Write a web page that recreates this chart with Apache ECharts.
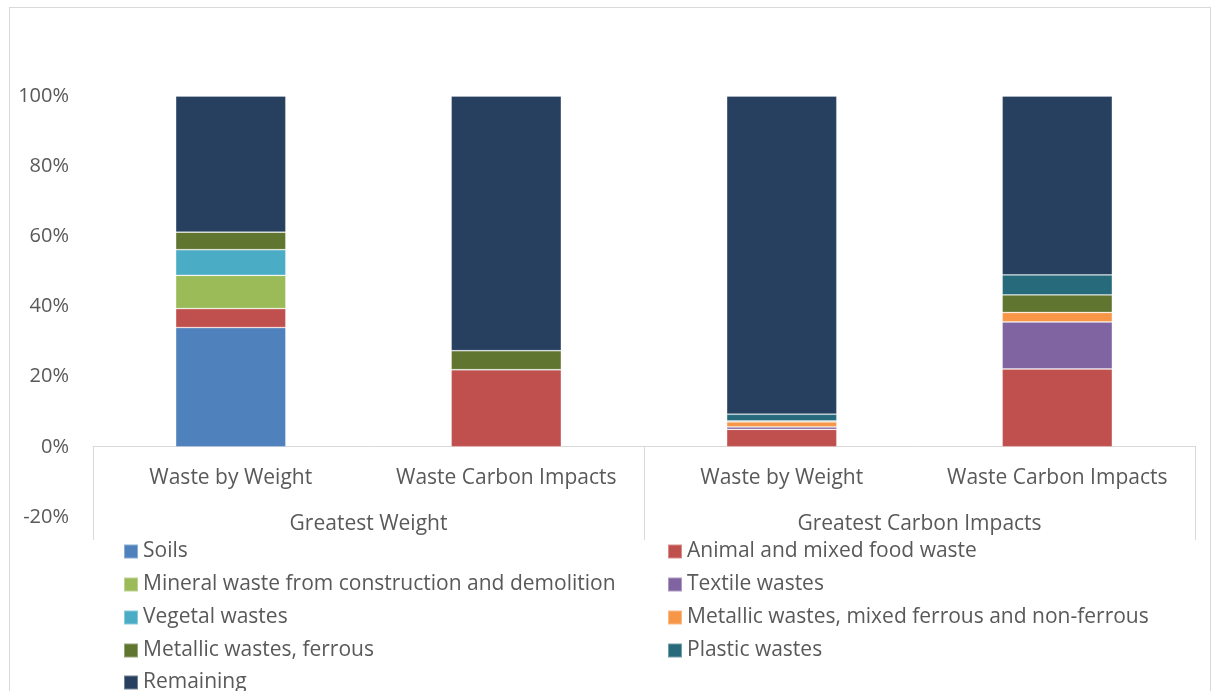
<!DOCTYPE html>
<html>
<head>
<meta charset="utf-8">
<script src="https://cdn.jsdelivr.net/npm/echarts@6/dist/echarts.min.js"></script>
<style>
  html, body { margin: 0; padding: 0; background: #fff; }
  #chart { width: 1216px; height: 691px; }
  .frame {
    position: absolute; left: 9px; top: 7px; width: 1200px; height: 700px;
    border: 1px solid #d9d9d9; pointer-events: none;
  }
</style>
</head>
<body>
<div id="chart"></div>
<div class="frame"></div>
<script>
// categories (inner level) and groups (outer level)
const categories = ["Waste by Weight", "Waste Carbon Impacts", "Waste by Weight", "Waste Carbon Impacts"];
const groups = ["Greatest Weight", "Greatest Carbon Impacts"];
const yTicks = [-20, 0, 20, 40, 60, 80, 100];

// series values, % of each bar
const soils       = [34.0, 0, 0, 0];
const foodWaste   = [5.4, 22.0, 5.0, 22.2];
const mineral     = [9.5, 0, 0, 0];
const textile     = [0, 0, 0.7, 13.4];
const vegetal     = [7.3, 0, 0, 0];
const metalMixed  = [0, 0, 1.4, 2.7];
const ferrous     = [5.0, 5.4, 0.3, 5.0];
const plastic     = [0, 0, 1.9, 5.7];
const remaining   = [38.8, 72.6, 90.7, 51.0];

const seriesDefs = [
  { name: "Soils", data: soils, color: "#4F81BD" },
  { name: "Animal and mixed food waste", data: foodWaste, color: "#C0504D" },
  { name: "Mineral waste from construction and demolition", data: mineral, color: "#9BBB59" },
  { name: "Textile wastes", data: textile, color: "#8064A2" },
  { name: "Vegetal wastes", data: vegetal, color: "#4BACC6" },
  { name: "Metallic wastes, mixed ferrous and non-ferrous", data: metalMixed, color: "#F79646" },
  { name: "Metallic wastes, ferrous", data: ferrous, color: "#5F7530" },
  { name: "Plastic wastes", data: plastic, color: "#276A7C" },
  { name: "Remaining", data: remaining, color: "#27405F" },
];

const fontFamily = "'Open Sans', 'Liberation Sans', sans-serif";
const textColor = "#595959";

const chart = echarts.init(document.getElementById("chart"));

const legendText = { color: textColor, fontSize: 21, fontFamily: fontFamily };

// legend laid out in two columns, read row by row
const makeLegend = (left, top, names) => ({
  orient: "vertical",
  left: left,
  top: top,
  icon: "rect",
  itemWidth: 14,
  itemHeight: 14,
  itemGap: 12,
  textStyle: legendText,
  data: names,
});

const option = {
  animation: false,
  grid: { left: 93, right: 21, top: 96, bottom: 174 },
  legend: [
    makeLegend(118, 536, [seriesDefs[0].name, seriesDefs[2].name, seriesDefs[4].name, seriesDefs[6].name]),
    makeLegend(118, 667, [seriesDefs[8].name]),
    makeLegend(662, 536, [seriesDefs[1].name, seriesDefs[3].name, seriesDefs[5].name, seriesDefs[7].name]),
  ],
  xAxis: [
    {
      type: "category",
      data: categories,
      // moved up onto the 0% line
      offset: -71,
      axisLine: { onZero: false, lineStyle: { color: "#d9d9d9", width: 1 } },
      axisTick: { show: false },
      axisLabel: { margin: 22, color: textColor, fontSize: 21, fontFamily: fontFamily, interval: 0 },
    },
    {
      type: "category",
      data: groups,
      position: "bottom",
      offset: 23,
      axisLine: { show: false, onZero: false },
      // group separators, reaching up to the zero line
      axisTick: { show: true, inside: true, length: 94, lineStyle: { color: "#d9d9d9", width: 1 } },
      axisLabel: { inside: true, margin: 5, color: textColor, fontSize: 21, fontFamily: fontFamily },
    },
  ],
  yAxis: {
    type: "value",
    min: yTicks[0],
    max: yTicks[yTicks.length - 1],
    interval: 20,
    axisLine: { show: false },
    axisTick: { show: false },
    splitLine: { show: false },
    axisLabel: {
      margin: 24,
      color: textColor,
      fontSize: 20,
      fontFamily: fontFamily,
      formatter: "{value}%",
    },
  },
  series: seriesDefs.map((s) => ({
    name: s.name,
    type: "bar",
    stack: "total",
    barWidth: "40%",
    xAxisIndex: 0,
    itemStyle: { color: s.color, borderColor: "rgba(255,255,255,0.35)", borderWidth: 0.8 },
    data: s.data,
  })),
};

chart.setOption(option);
</script>
</body>
</html>
